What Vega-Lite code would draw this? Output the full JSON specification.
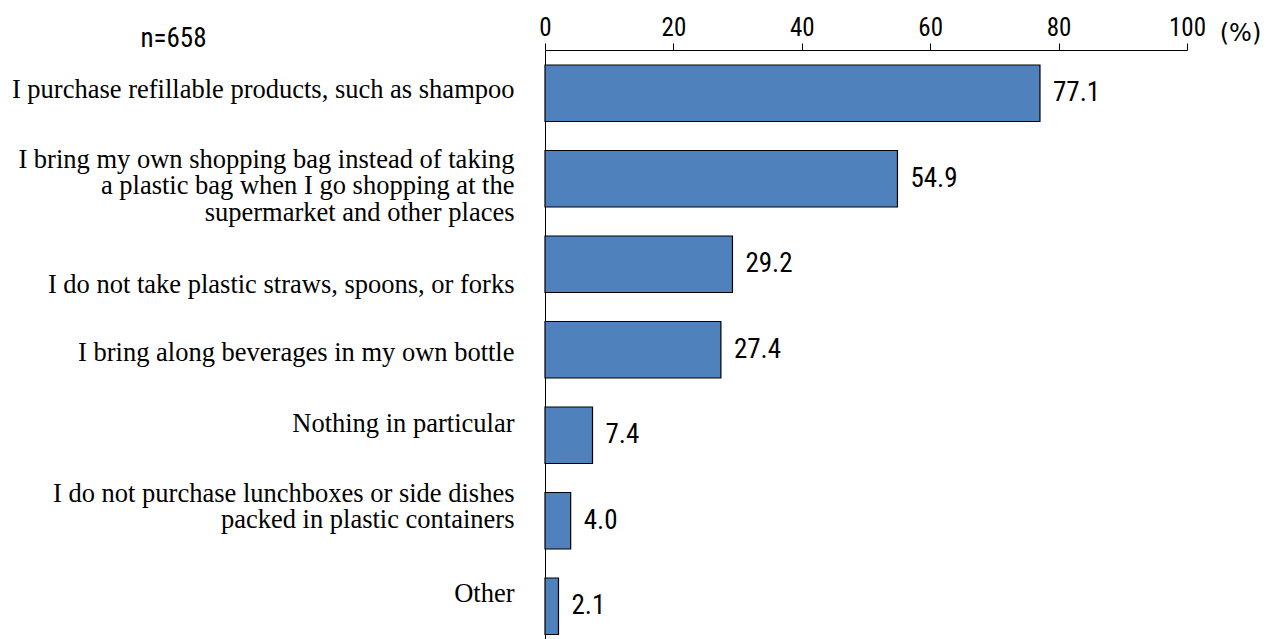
{
  "$schema": "https://vega.github.io/schema/vega-lite/v6.json",
  "autosize": "none",
  "width": 642,
  "height": 589,
  "padding": {"left": 545, "top": 50, "right": 84, "bottom": 0},
  "background": "white",
  "config": {"view": {"stroke": null}},
  "data": {
    "values": [
      {"label": "I purchase refillable products, such as shampoo", "value": 77.1},
      {"label": "I bring my own shopping bag instead of taking|a plastic bag when I go shopping at the|supermarket and other places", "value": 54.9},
      {"label": "I do not take plastic straws, spoons, or forks", "value": 29.2},
      {"label": "I bring along beverages in my own bottle", "value": 27.4},
      {"label": "Nothing in particular", "value": 7.4},
      {"label": "I do not purchase lunchboxes or side dishes|packed in plastic containers", "value": 4.0},
      {"label": "Other", "value": 2.1}
    ]
  },
  "encoding": {
    "y": {
      "field": "label",
      "type": "nominal",
      "sort": null,
      "scale": {"paddingInner": 0.3392, "paddingOuter": 0.114, "align": 0.769, "round": false},
      "axis": {
        "orient": "left",
        "title": "n=658",
        "titleAngle": 0,
        "titleX": -372,
        "titleY": -4,
        "titleAlign": "center",
        "titleBaseline": "alphabetic",
        "titleFont": "Roboto Condensed",
        "titleFontSize": 27,
        "titleFontWeight": "normal",
        "titleColor": "black",
        "ticks": false,
        "domain": true,
        "domainColor": "black",
        "domainWidth": 1,
        "labelPadding": 31,
        "labelLimit": 0,
        "labelOverlap": false,
        "labelFont": "Liberation Serif",
        "labelFontSize": 26.5,
        "labelLineHeight": 26.5,
        "labelColor": "black",
        "labelAlign": "right",
        "labelBaseline": "middle",
        "labelExpr": "split(datum.value, '|')",
        "labelOffset": {
          "condition": [
            {"test": "datum.value == 'I purchase refillable products, such as shampoo'", "value": -3},
            {"test": "datum.value == 'I bring my own shopping bag instead of taking|a plastic bag when I go shopping at the|supermarket and other places'", "value": -19},
            {"test": "datum.value == 'I do not take plastic straws, spoons, or forks'", "value": 21},
            {"test": "datum.value == 'I bring along beverages in my own bottle'", "value": 3},
            {"test": "datum.value == 'Nothing in particular'", "value": -11},
            {"test": "datum.value == 'I do not purchase lunchboxes or side dishes|packed in plastic containers'", "value": -27}
          ],
          "value": -12
        }
      }
    },
    "x": {
      "field": "value",
      "type": "quantitative",
      "scale": {"domain": [0, 100], "nice": false, "zero": true},
      "axis": {
        "orient": "top",
        "values": [0, 20, 40, 60, 80, 100],
        "title": "(%)",
        "titleX": 695,
        "titleY": -10,
        "titleAlign": "center",
        "titleBaseline": "alphabetic",
        "titleAngle": 0,
        "titleFont": "DejaVu Sans",
        "titleFontSize": 24,
        "titleFontWeight": "normal",
        "titleColor": "black",
        "grid": false,
        "domainColor": "black",
        "domainWidth": 1,
        "tickColor": "black",
        "tickSize": 7,
        "tickWidth": 1,
        "labelPadding": 8,
        "labelBaseline": "alphabetic",
        "labelFont": "Roboto Condensed",
        "labelFontSize": 25,
        "labelColor": "black",
        "labelFlush": false,
        "labelOverlap": false
      }
    }
  },
  "layer": [
    {
      "mark": {"type": "bar", "color": "#4f81bd", "stroke": "black", "strokeWidth": 1.2}
    },
    {
      "mark": {
        "type": "text",
        "align": "left",
        "baseline": "middle",
        "dx": 13,
        "font": "Roboto Condensed",
        "fontSize": 27,
        "color": "black"
      },
      "encoding": {"text": {"field": "value", "type": "quantitative", "format": ".1f"}}
    }
  ]
}
